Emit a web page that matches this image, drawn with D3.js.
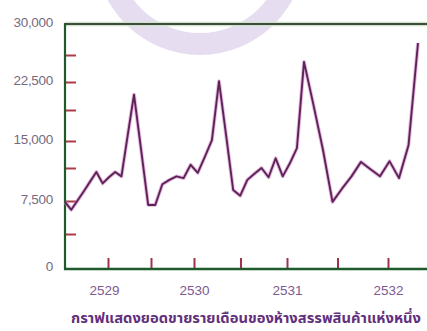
<!DOCTYPE html>
<html>
<head>
<meta charset="utf-8">
<script src="https://cdn.jsdelivr.net/npm/d3@7"></script>
<style>
  html, body { margin: 0; padding: 0; background: #ffffff; }
  svg { display: block; }
</style>
</head>
<body>
<svg id="chart" width="427" height="331"></svg>
<script>
// ---- data (monthly sales, Jan 2529 – Dec 2532) ----
const years = ["2529", "2530", "2531", "2532"];
const yearTicks = [2529, 2529.5, 2530, 2530.5, 2531, 2531.5, 2532];
const sales = [
  7400, 6500, 7550, 8600, 9700, 10800, 9500, 10200, 10800, 10300, 15700, 20800,
  13800, 7050, 7050, 9400, 9900, 10300, 10100, 11700, 10700, 12800, 15100, 22600,
  15700, 8750, 8100, 9900, 10600, 11250, 10200, 12600, 10300, 11900, 14000, 25300,
  19400, 13750, 7400, 8900, 10300, 12100, 11100, 10300, 12200, 10100, 14400, 27700
];
const yTickValues = [0, 3750, 7500, 11250, 15000, 18750, 22500, 26250, 30000];
const yLabelValues = [0, 7500, 15000, 22500, 30000];
const title = "กราฟแสดงยอดขายรายเดือนของห้างสรรพสินค้าแห่งหนึ่ง";

const svg = d3.select("#chart");

// hand-drawn original: piecewise scales follow the picture
const x = d3.scaleLinear().domain([0, 11, 23, 35, 47]).range([65, 134, 219, 304, 418]);
const xYear = d3.scaleLinear().domain([2529, 2530, 2531, 2532]).range([108, 194, 287, 388]);
const y = d3.scaleLinear().domain(yTickValues).range([268, 234, 201, 168, 141, 110, 82, 55, 24]);

// watermark ring
svg.append("path")
  .attr("transform", "translate(200,-50)")
  .attr("d", d3.arc()({innerRadius: 83, outerRadius: 105, startAngle: 0, endAngle: 2 * Math.PI}))
  .attr("fill", "#e6def0");

// top border
svg.append("line").attr("x1", 65).attr("x2", 427).attr("y1", 24).attr("y2", 24)
  .attr("stroke", "#cfe3c8").attr("stroke-width", 4.5);
svg.append("line").attr("x1", 65).attr("x2", 427).attr("y1", 24).attr("y2", 24)
  .attr("stroke", "#3f4a40").attr("stroke-width", 2.2);

// y axis
const yAxis = d3.axisLeft(y)
  .tickValues(yTickValues.filter(v => v > 0 && v < 30000))
  .tickSize(-10).tickPadding(12).tickFormat("");
const gy = svg.append("g").attr("transform", "translate(66,0)").call(yAxis);
gy.select(".domain").remove();
gy.selectAll(".tick line").attr("stroke", "#a83c48").attr("stroke-width", 2);

svg.append("g").selectAll("text").data(yLabelValues).join("text")
  .attr("x", 53).attr("y", d => y(d) + 3)
  .attr("text-anchor", "end")
  .attr("font-family", "'Liberation Sans', Arial, sans-serif")
  .attr("font-size", 13.5)
  .attr("letter-spacing", -0.3)
  .attr("fill", "#776a80")
  .text(d => d3.format(",")(d));

// x axis ticks + year labels
const xAxis = d3.axisBottom(xYear)
  .tickValues(yearTicks)
  .tickSize(-10).tickPadding(17)
  .tickFormat(d => Number.isInteger(d) ? years[d - 2529] : "");
const gx = svg.append("g").attr("transform", "translate(0,268)").call(xAxis);
gx.select(".domain").remove();
gx.selectAll(".tick line").attr("stroke", "#a3304a").attr("stroke-width", 2);
gx.selectAll(".tick text")
  .attr("font-family", "'Liberation Sans', Arial, sans-serif")
  .attr("font-size", 13.5)
  .attr("fill", "#7e5a90")
  .attr("dx", (d, i) => i === 0 ? -4 : 0);

// axis lines
svg.append("line").attr("x1", 65).attr("x2", 65).attr("y1", 23).attr("y2", 270)
  .attr("stroke", "#1f5a2b").attr("stroke-width", 2.2);
svg.append("line").attr("x1", 64).attr("x2", 427).attr("y1", 269).attr("y2", 269)
  .attr("stroke", "#1f5a2b").attr("stroke-width", 2.4);

// sales line
const line = d3.line().x((d, i) => x(i)).y(d => y(d));
svg.append("path").datum(sales).attr("d", line)
  .attr("fill", "none").attr("stroke", "#d77bd0").attr("stroke-width", 3.8)
  .attr("stroke-opacity", 0.55).attr("stroke-linejoin", "round");
svg.append("path").datum(sales).attr("d", line)
  .attr("fill", "none").attr("stroke", "#5a2552").attr("stroke-width", 1.9)
  .attr("stroke-linejoin", "round");

// title
svg.append("text")
  .attr("x", 71).attr("y", 323)
  .attr("textLength", 350).attr("lengthAdjust", "spacingAndGlyphs")
  .attr("font-family", "'Noto Sans Thai', 'Loma', 'Garuda', 'Tahoma', sans-serif")
  .attr("font-size", 14.5)
  .attr("font-weight", "bold")
  .attr("fill", "#62307c")
  .text(title);
</script>
</body>
</html>
